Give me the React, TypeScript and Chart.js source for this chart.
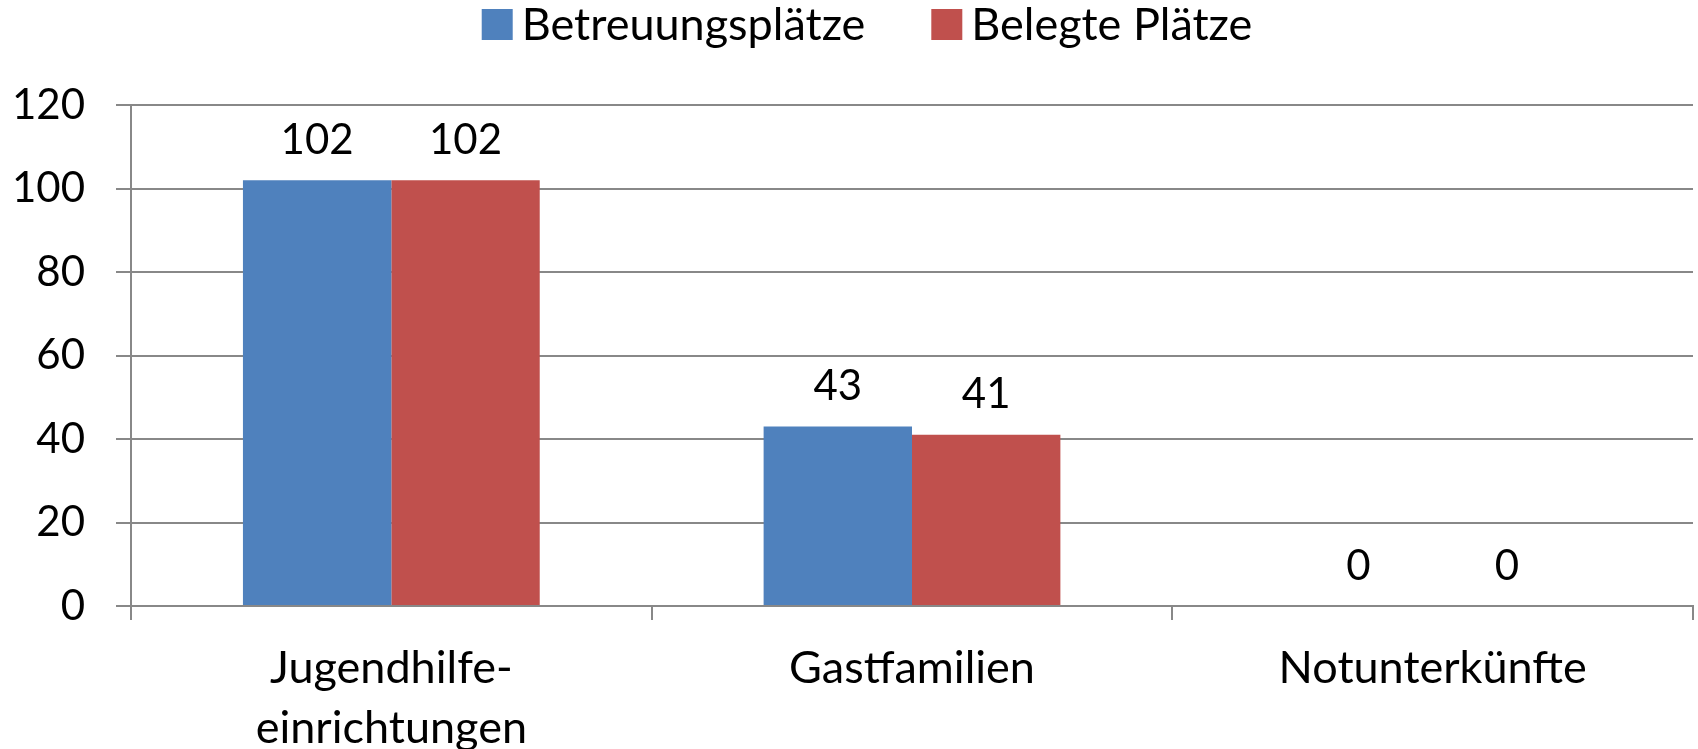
import React, { useEffect, useRef } from "react";
import { Chart, registerables } from "chart.js";

Chart.register(...registerables);

const categories: (string | string[])[] = [["Jugendhilfe-", "einrichtungen"], "Gastfamilien", "Notunterkünfte"];
const seriesNames = ["Betreuungsplätze", "Belegte Plätze"];
const betreuungsplaetze = [102, 43, 0];
const belegtePlaetze = [102, 41, 0];
const seriesColors = ["#4F81BD", "#C0504D"];
const yMin = 0;
const yMax = 120;
const yStep = 20;

const FONT = "Lato, 'Noto Sans', sans-serif";
const FS = 42;
const FS_TEXT = 45;
const GRID = "#888888";

const valueLabels = {
  id: "valueLabels",
  afterDatasetsDraw(chart: any) {
    const ctx = chart.ctx;
    ctx.save();
    ctx.font = `${FS}px ${FONT}`;
    ctx.fillStyle = "#000";
    ctx.textAlign = "center";
    ctx.textBaseline = "middle";
    chart.data.datasets.forEach((ds: any, i: number) => {
      const meta = chart.getDatasetMeta(i);
      meta.data.forEach((el: any, j: number) => {
        ctx.fillText(String(ds.data[j]), el.x, el.y - 40);
      });
    });
    ctx.restore();
  },
};

const topLegend = {
  id: "topLegend",
  afterDraw(chart: any) {
    const ctx = chart.ctx;
    ctx.save();
    ctx.font = `${FS_TEXT}px ${FONT}`;
    ctx.textBaseline = "middle";
    ctx.textAlign = "left";
    const box = 31;
    const gap = 9;
    const itemGap = 66;
    const widths = chart.data.datasets.map((d: any) => ctx.measureText(d.label).width);
    const total = widths.reduce((a: number, w: number) => a + box + gap + w, 0) + itemGap * (widths.length - 1);
    let x = chart.width / 2 + 18 - total / 2;
    chart.data.datasets.forEach((d: any, i: number) => {
      ctx.fillStyle = d.backgroundColor;
      ctx.fillRect(x, 9, box, box);
      ctx.fillStyle = "#000";
      ctx.fillText(d.label, x + box + gap, 25);
      x += box + gap + widths[i] + itemGap;
    });
    ctx.restore();
  },
};

export default function App() {
  const ref = useRef<HTMLCanvasElement>(null);
  useEffect(() => {
    document.body.style.margin = "0";
    const chart = new Chart(ref.current!, {
      type: "bar",
      data: {
        labels: categories,
        datasets: [
          { label: seriesNames[0], data: betreuungsplaetze, backgroundColor: seriesColors[0] },
          { label: seriesNames[1], data: belegtePlaetze, backgroundColor: seriesColors[1] },
        ],
      },
      options: {
        responsive: false,
        animation: false,
        layout: { padding: { top: 105, right: 5, left: 0, bottom: 0 } },
        datasets: { bar: { categoryPercentage: 0.57, barPercentage: 1 } },
        plugins: { legend: { display: false }, tooltip: { enabled: false } },
        scales: {
          x: {
            offset: true,
            grid: { offset: true, drawOnChartArea: false, drawTicks: true, tickLength: 14, color: GRID, lineWidth: 2 },
            border: { color: GRID, width: 2 },
            ticks: { color: "#000", font: { family: FONT, size: FS_TEXT, lineHeight: 60 / FS_TEXT }, padding: 18, maxRotation: 0, autoSkip: false },
            afterFit: (s: any) => { s.height = 143; },
          },
          y: {
            min: yMin,
            max: yMax,
            grid: { color: GRID, lineWidth: 2, tickLength: 15 },
            border: { color: GRID, width: 2 },
            ticks: { stepSize: yStep, color: "#000", font: { family: FONT, size: FS }, padding: 31 },
            afterFit: (s: any) => { s.width = 131; },
          },
        },
      },
      plugins: [valueLabels, topLegend],
    });
    return () => chart.destroy();
  }, []);
  return (
    <div style={{ width: 1698, height: 749 }}>
      <canvas ref={ref} width={1698} height={749} />
    </div>
  );
}
